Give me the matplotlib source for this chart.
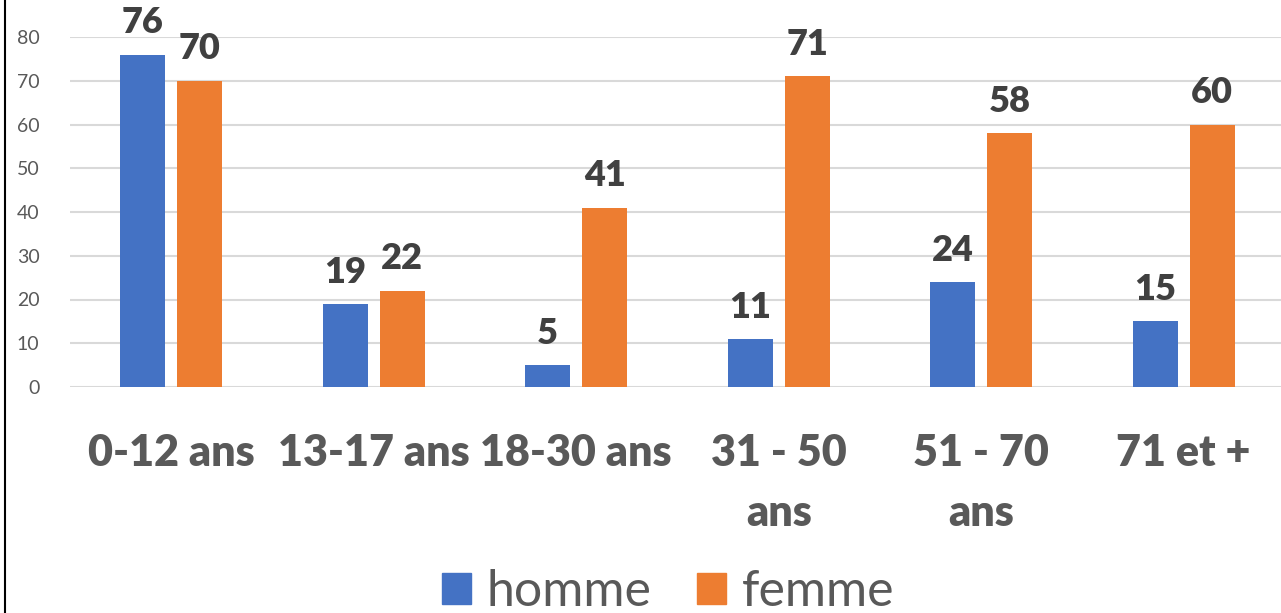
import matplotlib
matplotlib.use("Agg")
import matplotlib.pyplot as plt
from matplotlib.lines import Line2D
from matplotlib.patches import Patch
import numpy as np

categories = ["0-12 ans", "13-17 ans", "18-30 ans", "31 - 50\nans", "51 - 70\nans", "71 et +"]
homme = [76, 19, 5, 11, 24, 15]
femme = [70, 22, 41, 71, 58, 60]
yticks = [0, 10, 20, 30, 40, 50, 60, 70, 80]

BLUE = "#4472C4"
ORANGE = "#ED7D31"
plt.rcParams['font.family'] = ['Lato', 'DejaVu Sans']

W, H = 1281, 613
fig = plt.figure(figsize=(W / 100, H / 100), dpi=100)
left = 70 / W
right = 1285 / W
bottom = 1 - 387 / H
top = 1 - 37 / H
ax = fig.add_axes([left, bottom, right - left, top - bottom])
ax.set_ylim(0, 80)
ax.set_xlim(-0.5, 5.5)

x = np.arange(len(categories))
bw = 0.222
off = 0.141
b1 = ax.bar(x - off, homme, bw, color=BLUE, zorder=3)
b2 = ax.bar(x + off, femme, bw, color=ORANGE, zorder=3)

for bars, vals in ((b1, homme), (b2, femme)):
    for r, v in zip(bars, vals):
        ax.annotate(str(v), (r.get_x() + r.get_width() / 2, v), xytext=(0, 11),
                    textcoords="offset points", ha="center", va="bottom",
                    fontsize=26, fontweight="heavy", color="#404040", clip_on=False)

ax.set_yticks(yticks)
ax.set_yticklabels([str(t) for t in yticks], fontsize=14, color="#595959")
ax.yaxis.grid(True, color="#D9D9D9", linewidth=1.5, zorder=0)
ax.tick_params(axis="y", length=0, pad=22)
ax.set_xticks(x)
ax.set_xticklabels(categories, fontsize=31, fontweight="heavy", color="#595959",
                   linespacing=1.6)
ax.tick_params(axis="x", length=0, pad=33)
for s in ax.spines.values():
    s.set_visible(False)

handles = [Patch(color=BLUE, label="homme"), Patch(color=ORANGE, label="femme")]
fig.legend(handles=handles, loc="center", bbox_to_anchor=(668 / W, 1 - 592 / H),
           ncol=2, frameon=False, fontsize=36, labelcolor="#595959",
           handlelength=0.58, handleheight=0.58, handletextpad=0.32, columnspacing=0.9)

fig.add_artist(Line2D([5 / W, 5 / W], [0, 1], color="black", linewidth=1.5,
                      transform=fig.transFigure))

fig.savefig("out.png", dpi=100, facecolor="white")
